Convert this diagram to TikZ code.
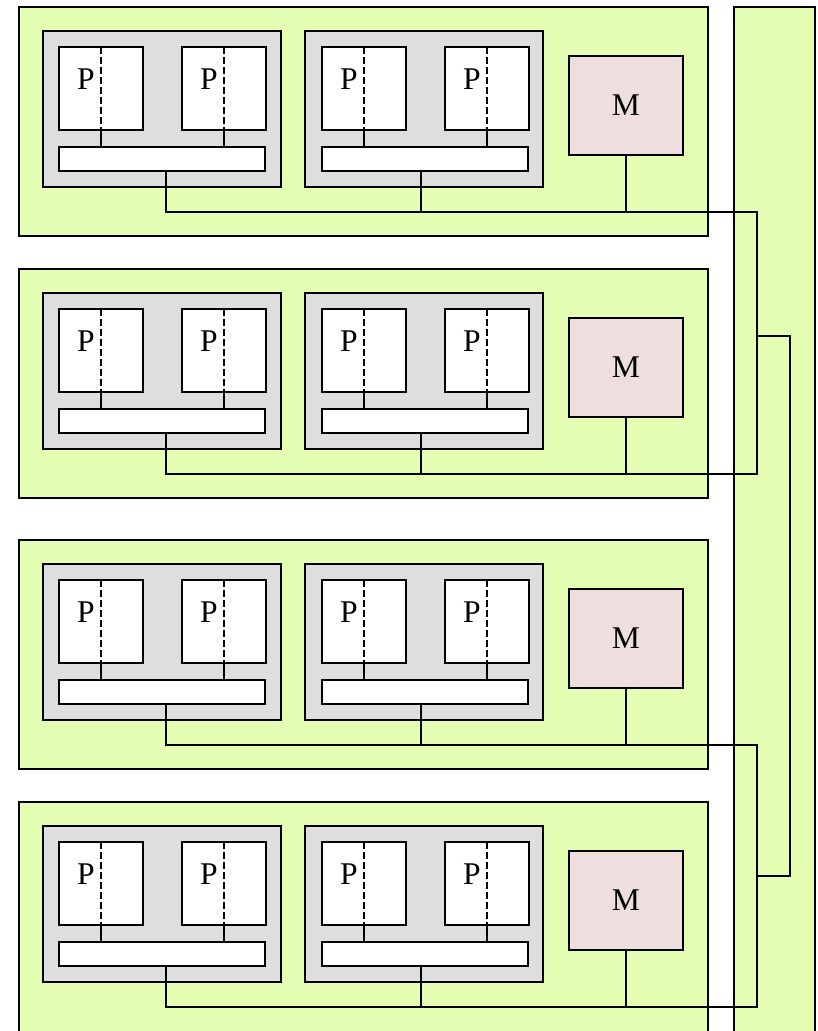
\documentclass[tikz,border=0pt]{standalone}
\usepackage{fontspec}
\setmainfont{Liberation Serif}
\definecolor{boardgreen}{HTML}{E4FEB4}
\definecolor{sockgray}{HTML}{DEDEDE}
\definecolor{mempink}{HTML}{EEDEDE}
\tikzset{
  box/.style={draw, line width=1.1pt, anchor=north west, inner sep=0pt, outer sep=0pt},
  board/.style={box, fill=boardgreen, minimum width=13.78cm},
  backplane/.style={box, fill=boardgreen, minimum width=1.62cm, minimum height=20.8cm},
  socket/.style={box, fill=sockgray, minimum width=4.76cm, minimum height=3.12cm},
  cpu/.style={box, fill=white, minimum width=1.68cm, minimum height=1.66cm},
  cache/.style={box, fill=white, minimum width=4.12cm, minimum height=0.48cm},
  mem/.style={box, fill=mempink, minimum width=2.28cm, minimum height=1.98cm},
  wire/.style={draw, line width=1.1pt},
  split/.style={wire, dash pattern=on 4pt off 1.7pt}
}
\begin{document}
\begin{tikzpicture}[x=0.02cm, y=-0.02cm, font=\fontsize{18}{20}\selectfont]
    \useasboundingbox (0,0) rectangle (818,1031);
    \clip (0,0) rectangle (818,1031);

    % Backplane
    \node[backplane] (column) at (734,7) {};

    % Boards
    \foreach \b/\t/\h in {1/7/4.58, 2/269/4.58, 3/540/4.58, 4/802/5.2} {
        \node[board, minimum height=\h cm] (board\b) at (19,\t) {};
        \node[socket] (sockL\b) at (43,\t+24) {};
        \node[socket] (sockR\b) at (305,\t+24) {};
        \node[cache] (cacheL\b) at (59,\t+140) {};
        \node[cache] (cacheR\b) at (322,\t+140) {};
        \node[mem] (mem\b) at (569,\t+49) {M};

        % Processors
        \foreach \i/\x/\c in {1/59/L, 2/182/L, 3/322/R, 4/445/R} {
            \node[cpu] (cpu\b-\i) at (\x,\t+40) {};
            \node (p\b-\i) at ([xshift=-0.3cm, yshift=0.19cm]cpu\b-\i.center) {P};
            \path[split] (cpu\b-\i.north) -- (cpu\b-\i.south);
            \path[wire] (cpu\b-\i.south) -- (cpu\b-\i.south |- cache\c\b.north);
        }

        % Drops to the bus
        \coordinate (bus\b) at (757,\t+205);
        \coordinate (dropL\b) at ([xshift=0.08cm]cacheL\b.south);
        \coordinate (dropR\b) at ([xshift=-0.08cm]cacheR\b.south);
        \path[wire] (dropR\b) -- (dropR\b |- bus\b);
        \path[wire] (mem\b.south) -- (mem\b.south |- bus\b);
    }

    % Bus
    \path[wire] (dropL1) |- (bus1) -- (bus2) -| (dropL2);
    \path[wire] (dropL3) |- (bus3) -- (bus4) -| (dropL4);
    \coordinate (tapA) at (757,336);
    \coordinate (tapB) at (757,876);
    \path[wire] (tapA) -- ++(33,0) |- (tapB);
\end{tikzpicture}
\end{document}
